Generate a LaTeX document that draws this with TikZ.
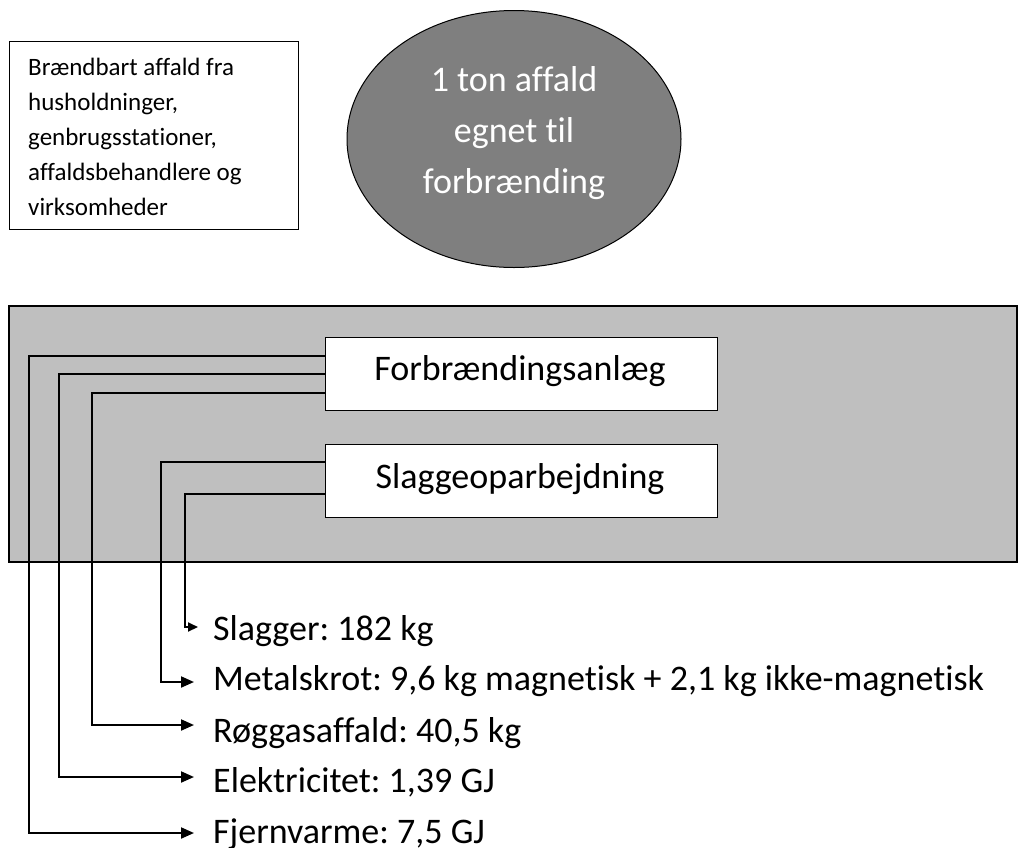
\documentclass[tikz,border=0pt]{standalone}
\usepackage{fontspec}
\setmainfont{Carlito}[Ligatures={NoCommon}]
\usetikzlibrary{arrows.meta,shapes.geometric}
\definecolor{panelgray}{HTML}{BFBFBF}
\definecolor{ellgray}{HTML}{7F7F7F}
\frenchspacing
\begin{document}
\begin{tikzpicture}[x=1pt,y=-1pt,
  boxtxt/.style={font=\fontsize{25}{35}\selectfont, inner sep=0pt, anchor=base west},
  bigtxt/.style={font=\fontsize{36}{44}\selectfont, inner sep=0pt},
  procbox/.style={draw=black, line width=1pt, fill=white, minimum width=392pt, minimum height=73pt, inner sep=0pt},
  conn/.style={line width=2pt, -{Triangle[length=13pt,width=11pt]}},
  connsmall/.style={line width=2pt, -{Triangle[length=10pt,width=9pt]}}
]
\useasboundingbox (0,0) rectangle (1018,847);
\fill[white] (0,0) rectangle (1018,847);

% source box
\node[draw=black, line width=1pt, minimum width=289pt, minimum height=188pt, inner sep=0pt] (src) at (153.5,135) {};
\node[boxtxt] (s1) at (28,75) {\frenchspacing Brændbart affald fra};
\node[boxtxt] (s2) at (28,110) {husholdninger,};
\node[boxtxt] (s3) at (28,145) {genbrugsstationer,};
\node[boxtxt] (s4) at (28,180) {affaldsbehandlere og};
\node[boxtxt] (s5) at (28,215) {virksomheder};

% ellipse
\node[draw=black, line width=1pt, fill=ellgray, ellipse, minimum width=334pt, minimum height=257pt, inner sep=0pt] (ton) at (514,139) {};
\node[bigtxt, text=white, anchor=base] (t1) at (514,91) {1 ton affald};
\node[bigtxt, text=white, anchor=base] (t2) at (514,142) {egnet til};
\node[bigtxt, text=white, anchor=base] (t3) at (514,193) {forbrænding};

% panel
\node[draw=black, line width=1.5pt, fill=panelgray, minimum width=1008pt, minimum height=256pt, inner sep=0pt] (panel) at (513,434) {};

\node[procbox] (forb) at (521,373.5) {};
\node[bigtxt, anchor=base] (forbtxt) at (520,380) {Forbrændingsanlæg};
\node[procbox] (slag) at (521,481) {};
\node[bigtxt, anchor=base] (slagtxt) at (520,488) {Slaggeoparbejdning};

% outputs
\coordinate (eSlag) at (198,627);
\coordinate (eMet) at (194,682);
\coordinate (eRog) at (194,725);
\coordinate (eEl) at (194,777);
\coordinate (eFj) at (194,833);

\node[bigtxt, anchor=base west] (lSlag) at (213,640) {Slagger: 182 kg};
\node[bigtxt, anchor=base west] (lMet) at (213,690) {Metalskrot: 9,6 kg magnetisk + 2,1 kg ikke-magnetisk};
\node[bigtxt, anchor=base west] (lRog) at (213,742) {Røggasaffald: 40,5 kg};
\node[bigtxt, anchor=base west] (lEl) at (213,792) {Elektricitet: 1,39 GJ};
\node[bigtxt, anchor=base west] (lFj) at (213,843) {Fjernvarme: 7,5 GJ};

% connectors
\draw[conn] (forb.west |- 0,356) -| (29,833) -- (eFj);
\draw[conn] (forb.west |- 0,374) -| (59,777) -- (eEl);
\draw[conn] (forb.west |- 0,393) -| (92,725) -- (eRog);
\draw[conn] (slag.west |- 0,462) -| (161,682) -- (eMet);
\draw[connsmall] (slag.west |- 0,494) -| (185,627) -- (eSlag);
\end{tikzpicture}
\end{document}
